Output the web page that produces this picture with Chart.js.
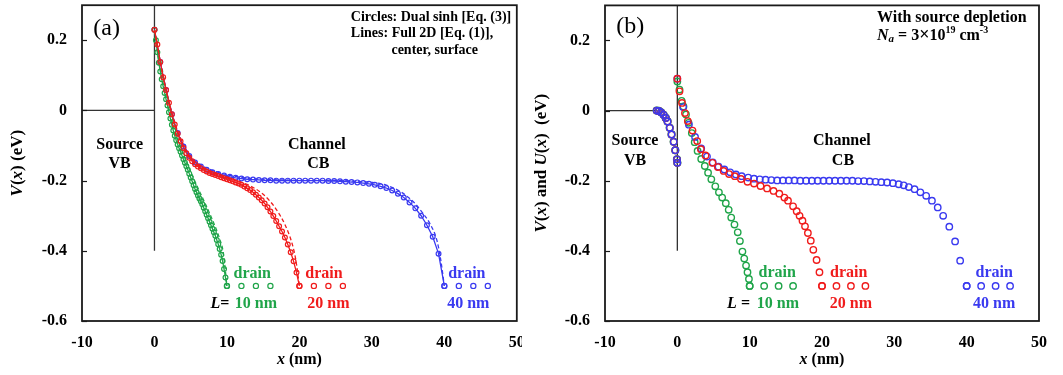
<!DOCTYPE html>
<html><head><meta charset="utf-8">
<script src="https://cdn.jsdelivr.net/npm/chart.js@4"></script>
<style>
html,body{margin:0;padding:0;background:#fff;}
#wrap{position:relative;width:1063px;height:375px;overflow:hidden;}
#ca{position:absolute;left:0;top:0;}
#cb{position:absolute;left:522px;top:0;}
</style></head><body>
<div id="wrap"><canvas id="ca" width="522" height="375"></canvas><canvas id="cb" width="541" height="375"></canvas></div>
<script>
// axes
const xTicks = [-10, 0, 10, 20, 30, 40, 50];
const yTicks = [-0.6, -0.4, -0.2, 0, 0.2];

// x grids (L/50 steps)
const xL10 = [0,0.2,0.4,0.6,0.8,1,1.2,1.4,1.6,1.8,2,2.2,2.4,2.6,2.8,3,3.2,3.4,3.6,3.8,4,4.2,4.4,4.6,4.8,5,5.2,5.4,5.6,5.8,6,6.2,6.4,6.6,6.8,7,7.2,7.4,7.6,7.8,8,8.2,8.4,8.6,8.8,9,9.2,9.4,9.6,9.8,10];
const xL20 = [0,0.4,0.8,1.2,1.6,2,2.4,2.8,3.2,3.6,4,4.4,4.8,5.2,5.6,6,6.4,6.8,7.2,7.6,8,8.4,8.8,9.2,9.6,10,10.4,10.8,11.2,11.6,12,12.4,12.8,13.2,13.6,14,14.4,14.8,15.2,15.6,16,16.4,16.8,17.2,17.6,18,18.4,18.8,19.2,19.6,20];
const xL40 = [0,0.8,1.6,2.4,3.2,4,4.8,5.6,6.4,7.2,8,8.8,9.6,10.4,11.2,12,12.8,13.6,14.4,15.2,16,16.8,17.6,18.4,19.2,20,20.8,21.6,22.4,23.2,24,24.8,25.6,26.4,27.2,28,28.8,29.6,30.4,31.2,32,32.8,33.6,34.4,35.2,36,36.8,37.6,38.4,39.2,40];

// (a) dual sinh circles + center line
const vA10 = [0.230,0.200,0.166,0.136,0.111,0.089,0.069,0.050,0.032,0.014,-0.005,-0.023,-0.041,-0.057,-0.072,-0.085,-0.097,-0.108,-0.118,-0.128,-0.139,-0.149,-0.159,-0.169,-0.180,-0.191,-0.202,-0.213,-0.224,-0.233,-0.242,-0.251,-0.259,-0.267,-0.277,-0.287,-0.297,-0.307,-0.317,-0.327,-0.337,-0.347,-0.357,-0.369,-0.381,-0.395,-0.411,-0.429,-0.452,-0.476,-0.500];
const vA20 = [0.230,0.188,0.138,0.095,0.058,0.022,-0.011,-0.040,-0.066,-0.088,-0.107,-0.122,-0.135,-0.145,-0.153,-0.160,-0.165,-0.170,-0.174,-0.178,-0.181,-0.184,-0.187,-0.190,-0.193,-0.196,-0.199,-0.202,-0.205,-0.208,-0.212,-0.217,-0.222,-0.227,-0.233,-0.240,-0.248,-0.256,-0.265,-0.276,-0.288,-0.301,-0.315,-0.330,-0.345,-0.362,-0.382,-0.404,-0.430,-0.462,-0.500];
const vA40 = [0.230,0.138,0.058,-0.011,-0.064,-0.103,-0.130,-0.148,-0.160,-0.169,-0.176,-0.181,-0.185,-0.189,-0.192,-0.194,-0.196,-0.197,-0.198,-0.199,-0.199,-0.200,-0.200,-0.200,-0.200,-0.200,-0.200,-0.200,-0.200,-0.200,-0.201,-0.201,-0.202,-0.203,-0.204,-0.205,-0.207,-0.209,-0.212,-0.216,-0.221,-0.228,-0.237,-0.248,-0.262,-0.279,-0.300,-0.327,-0.360,-0.408,-0.500];

// (a) surface (dashed)
const xS10 = [0,0.5,1,1.5,2,2.5,3,3.5,4,4.5,5,5.5,6,6.5,7,7.5,8,8.5,9,9.5,10];
const vS10 = [0.230,0.155,0.095,0.048,0.005,-0.036,-0.071,-0.100,-0.126,-0.150,-0.174,-0.198,-0.221,-0.243,-0.265,-0.288,-0.312,-0.337,-0.366,-0.405,-0.500];
const xS20 = [0,1,2,3,4,5,6,7,8,9,10,11,12,13,14,15,16,17,18,19,19.5,20];
const vS20 = [0.230,0.118,0.025,-0.048,-0.100,-0.136,-0.155,-0.167,-0.176,-0.184,-0.191,-0.198,-0.205,-0.213,-0.224,-0.239,-0.260,-0.288,-0.325,-0.380,-0.425,-0.500];
const xS40 = [0,1,2,3,4,5,6,8,10,12,14,16,18,20,22,24,26,28,30,32,34,35,36,37,38,39,39.5,40];
const vS40 = [0.230,0.118,0.025,-0.048,-0.098,-0.130,-0.150,-0.171,-0.183,-0.191,-0.195,-0.197,-0.198,-0.199,-0.199,-0.199,-0.200,-0.202,-0.205,-0.213,-0.232,-0.247,-0.266,-0.292,-0.322,-0.372,-0.425,-0.500];

// (b) with source depletion, [x, V]
const ptsB10 = [[0,0.083],[0.3,0.060],[0.6,0.028],[0.85,0.012],[1.2,-0.011],[1.55,-0.035],[2.0,-0.064],[2.4,-0.090],[2.8,-0.115],[3.3,-0.138],[3.8,-0.158],[4.25,-0.177],[4.7,-0.196],[5.25,-0.216],[5.75,-0.233],[6.2,-0.248],[6.7,-0.264],[7.1,-0.283],[7.45,-0.305],[7.9,-0.325],[8.35,-0.347],[8.65,-0.372],[9.0,-0.402],[9.25,-0.422],[9.5,-0.442],[9.7,-0.461],[9.9,-0.480],[10,-0.5]];
const ptsB20 = [[0,0.091],[0.3,0.055],[0.65,0.022],[1.05,-0.007],[1.45,-0.030],[2.1,-0.057],[2.75,-0.087],[3.25,-0.110],[3.9,-0.128],[4.85,-0.149],[5.6,-0.161],[6.4,-0.172],[7.15,-0.181],[7.95,-0.187],[8.8,-0.195],[9.7,-0.203],[10.6,-0.208],[11.5,-0.215],[12.4,-0.222],[13.3,-0.229],[14.1,-0.237],[14.8,-0.248],[15.3,-0.257],[16.0,-0.273],[16.5,-0.287],[16.9,-0.300],[17.3,-0.314],[17.65,-0.330],[18.05,-0.349],[18.45,-0.371],[18.8,-0.397],[19.25,-0.426],[19.65,-0.461],[20,-0.5]];
const ptsB40 = [[0,0.091],[0.8,0.010],[1.6,-0.040],[2.45,-0.075],[3.3,-0.108],[4.1,-0.131],[4.9,-0.148],[5.7,-0.160],[6.5,-0.168],[7.3,-0.176],[8.1,-0.182],[8.9,-0.187],[9.8,-0.191],[10.6,-0.194],[11.4,-0.196],[12.2,-0.197],[13.0,-0.198],[13.8,-0.199],[14.6,-0.199],[15.4,-0.199],[16.2,-0.199],[17.0,-0.200],[17.8,-0.200],[18.6,-0.200],[19.4,-0.200],[20.2,-0.200],[21.0,-0.200],[21.8,-0.200],[22.6,-0.200],[23.4,-0.200],[24.2,-0.200],[25.0,-0.201],[25.8,-0.201],[26.6,-0.202],[27.4,-0.203],[28.2,-0.204],[29.0,-0.205],[29.8,-0.207],[30.6,-0.210],[31.3,-0.213],[32.0,-0.218],[32.8,-0.224],[33.6,-0.233],[34.4,-0.243],[35.2,-0.257],[36.0,-0.276],[36.75,-0.300],[37.6,-0.331],[38.4,-0.373],[39.1,-0.428],[40,-0.5]];
const ptsSrc = [[-2.85,0],[-2.55,-0.001],[-2.25,-0.005],[-1.9,-0.012],[-1.6,-0.021],[-1.35,-0.031],[-1.05,-0.049],[-0.8,-0.068],[-0.5,-0.089],[-0.28,-0.113],[-0.05,-0.139],[0,-0.149]];

// drain contacts
const drain10 = [10, 12, 14, 16];
const drain20 = [20, 22, 24, 26];
const drain40 = [40, 42, 44, 46];
const drainV = -0.5;

// band edges
const edgeA = [[-10,0],[0,0],[0,0.3],[0,-0.4]];
const edgeB1 = [[-10,0],[-2.85,0]];
const edgeJ = [[0,0.3],[0,-0.4]];

const SERIF = '"Liberation Serif","Times New Roman",Times,serif';
const GREEN = '#20a54a', RED = '#f01c1c', BLUE = '#3a3af0';

const zip = (xs, ys) => xs.map((x, i) => ({x, y: ys[i]}));
const pairs = arr => arr.map(p => ({x: p[0], y: p[1]}));
const row = xs => xs.map(x => ({x, y: drainV}));

function fnt(s){ return `${s.it?'italic ':''}${s.w||'bold'} ${s.sz||16}px ${SERIF}`; }
function rich(ctx, segs, x, y, align, color){
  const ws = segs.map(s => { ctx.font = fnt(s); return ctx.measureText(s.t).width; });
  const tot = ws.reduce((p, q) => p + q, 0);
  let cx = align === 'left' ? x : align === 'right' ? x - tot : x - tot/2;
  ctx.textBaseline = 'middle'; ctx.textAlign = 'left';
  segs.forEach((s, i) => { ctx.font = fnt(s); ctx.fillStyle = s.c || color; ctx.fillText(s.t, cx, y + (s.dy||0)); cx += ws[i]; });
}

function makeDecor(notes, yTitle, yTitleOff, xTitle){
  return {
    id: 'decor',
    afterDraw(chart){
      const {ctx, chartArea: a, scales: {x, y}} = chart;
      ctx.save();
      ctx.strokeStyle = '#1a1a1a'; ctx.lineWidth = 1.8;
      ctx.strokeRect(a.left, a.top, a.right - a.left, a.bottom - a.top);
      ctx.lineWidth = 1.2;
      yTicks.forEach(v => {
        const py = Math.round(y.getPixelForValue(v)) + 0.5;
        ctx.beginPath(); ctx.moveTo(a.left, py); ctx.lineTo(a.left + 5, py); ctx.stroke();
      });
      notes.forEach(n => rich(ctx, n.segs, x.getPixelForValue(n.x), y.getPixelForValue(n.y), n.align || 'center', n.c || '#000'));
      rich(ctx, xTitle, (a.left + a.right)/2, a.bottom + 39, 'center', '#000');
      ctx.translate(a.left - yTitleOff, (a.top + a.bottom)/2);
      ctx.rotate(-Math.PI/2);
      rich(ctx, yTitle, 0, 0, 'center', '#000');
      ctx.restore();
    }
  };
}

function scales(axisW){
  const tf = {family: SERIF, size: 16, weight: 'bold'};
  return {
    x: {type: 'linear', min: -10, max: 50,
      afterBuildTicks: s => { s.ticks = xTicks.map(v => ({value: v})); },
      afterFit: s => { s.height = 54; s.paddingLeft = 0; s.paddingRight = 0; },
      grid: {display: false, drawTicks: false}, border: {display: false},
      ticks: {padding: 12, color: '#000', font: tf, maxRotation: 0, autoSkip: false, callback: v => String(v)}},
    y: {type: 'linear', min: -0.6, max: 0.3,
      afterBuildTicks: s => { s.ticks = yTicks.map(v => ({value: v})); },
      afterFit: s => { s.width = axisW; s.paddingTop = 0; s.paddingBottom = 0; },
      grid: {display: false, drawTicks: false}, border: {display: false},
      ticks: {padding: 15, color: '#000', font: tf, autoSkip: false, callback: v => String(v)}}
  };
}

function curve(data, color, r){ return {data, showLine: true, borderColor: color, borderWidth: 1.3, pointRadius: r, pointBorderColor: color, pointBackgroundColor: 'rgba(0,0,0,0)', pointBorderWidth: 1.2, tension: 0}; }
function dashed(data, color){ return {data, showLine: true, borderColor: color, borderWidth: 1.3, borderDash: [4, 2.5], pointRadius: 0, cubicInterpolationMode: 'monotone'}; }
function dots(data, color, r, w){ return {data, showLine: false, borderColor: color, pointRadius: r, pointBorderColor: color, pointBackgroundColor: 'rgba(0,0,0,0)', pointBorderWidth: w}; }
function edge(data){ return {data, showLine: true, borderColor: '#333', borderWidth: 1.3, pointRadius: 0, tension: 0}; }

const base = pad => ({
  responsive: false, animation: false, events: [],
  layout: {padding: pad},
  plugins: {legend: {display: false}, tooltip: {enabled: false}},
});

const drainNotes = (xs, yD, yL, lbl, lx) => [
  {x: xs[0], y: yD, segs: [{t: 'drain', c: GREEN}]},
  {x: xs[1], y: yD, segs: [{t: 'drain', c: RED}]},
  {x: xs[2], y: yD, segs: [{t: 'drain', c: BLUE}]},
  {x: lx, y: yL, align: 'right', segs: lbl},
  {x: xs[3], y: yL, segs: [{t: '10 nm', c: GREEN}]},
  {x: xs[4], y: yL, segs: [{t: '20 nm', c: RED}]},
  {x: xs[5], y: yL, segs: [{t: '40 nm', c: BLUE}]},
];

const notesA = [
  {x: -6.6, y: 0.233, segs: [{t: '(a)', w: 'normal', sz: 24}]},
  {x: 27.1, y: 0.265, align: 'left', segs: [{t: 'Circles: Dual sinh [Eq. (3)]', sz: 14}]},
  {x: 27.1, y: 0.219, align: 'left', segs: [{t: 'Lines: Full 2D [Eq. (1)],', sz: 14}]},
  {x: 32.7, y: 0.171, align: 'left', segs: [{t: 'center, surface', sz: 14}]},
  {x: -4.8, y: -0.098, segs: [{t: 'Source'}]},
  {x: -4.8, y: -0.152, segs: [{t: 'VB'}]},
  {x: 22.4, y: -0.098, segs: [{t: 'Channel'}]},
  {x: 22.6, y: -0.152, segs: [{t: 'CB'}]},
  ...drainNotes([13.5, 23.4, 43.1, 14.0, 24.0, 43.3], -0.467, -0.55, [{t: 'L', it: true}, {t: '= '}], 10.9),
];

const notesB = [
  {x: -6.5, y: 0.239, segs: [{t: '(b)', w: 'normal', sz: 24}]},
  {x: 27.6, y: 0.265, align: 'left', segs: [{t: 'With source depletion', sz: 16}]},
  {x: 27.6, y: 0.214, align: 'left', segs: [{t: 'N', it: true, sz: 16}, {t: 'a', it: true, sz: 11, dy: 4}, {t: ' = 3', sz: 16}, {t: '×', sz: 18}, {t: '10', sz: 16}, {t: '19', sz: 10, dy: -5}, {t: ' cm', sz: 16}, {t: '-3', sz: 10, dy: -5}]},
  {x: -5.85, y: -0.087, segs: [{t: 'Source'}]},
  {x: -5.85, y: -0.144, segs: [{t: 'VB'}]},
  {x: 22.75, y: -0.087, segs: [{t: 'Channel'}]},
  {x: 22.9, y: -0.144, segs: [{t: 'CB'}]},
  ...drainNotes([13.8, 23.7, 43.8, 13.9, 24.0, 43.8], -0.462, -0.55, [{t: 'L', it: true}, {t: ' = '}], 10.6),
];

new Chart(document.getElementById('ca'), {
  type: 'scatter',
  data: {datasets: [
    curve(zip(xL20, vA20), RED, 2.4),
    dashed(zip(xS20, vS20), RED),
    curve(zip(xL10, vA10), GREEN, 2.4),
    dashed(zip(xS10, vS10), GREEN),
    curve(zip(xL40, vA40), BLUE, 2.4),
    dashed(zip(xS40, vS40), BLUE),
    dots(row(drain10), GREEN, 2.6, 1.2),
    dots(row(drain20), RED, 2.6, 1.2),
    dots(row(drain40), BLUE, 2.6, 1.2),
    edge(pairs(edgeA)),
  ]},
  options: {...base({left: 0, right: 3, top: 4, bottom: 0}), scales: scales(82)},
  plugins: [makeDecor(notesA,
    [{t: 'V', it: true, sz: 17}, {t: '(', sz: 17}, {t: 'x', it: true, sz: 17}, {t: ') (eV)', sz: 17}], 64,
    [{t: 'x', it: true}, {t: ' (nm)'}])]
});

new Chart(document.getElementById('cb'), {
  type: 'scatter',
  data: {datasets: [
    dots(pairs(ptsSrc), BLUE, 3.2, 1.4),
    dots(pairs(ptsSrc), RED, 3.2, 1.4),
    dots(pairs(ptsSrc), GREEN, 3.4, 1.4),
    dots(pairs(ptsB20), RED, 3.2, 1.4),
    dots(pairs(ptsB40), BLUE, 3.2, 1.4),
    dots(pairs(ptsB10), GREEN, 3.2, 1.4),
    dots(row(drain10), GREEN, 3.2, 1.4),
    dots(row(drain20), RED, 3.2, 1.4),
    dots(row(drain40), BLUE, 3.2, 1.4),
    edge(pairs(edgeB1)),
    edge(pairs(edgeJ)),
  ]},
  options: {...base({left: 0, right: 24, top: 4, bottom: 0}), scales: scales(83)},
  plugins: [makeDecor(notesB,
    [{t: 'V', it: true, sz: 17}, {t: '(', sz: 17}, {t: 'x', it: true, sz: 17}, {t: ') and ', sz: 17}, {t: 'U', it: true, sz: 17}, {t: '(', sz: 17}, {t: 'x', it: true, sz: 17}, {t: ')  (eV)', sz: 17}], 63,
    [{t: 'x', it: true}, {t: ' (nm)'}])]
});
</script>
</body></html>
